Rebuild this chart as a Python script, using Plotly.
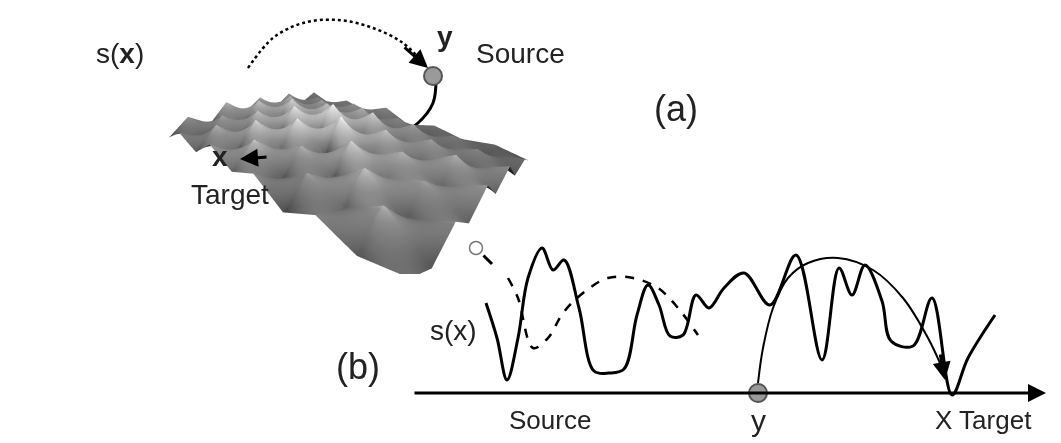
"""Sketch of a rugged landscape s(x): 3D view (a) and 1D cut (b)."""
import plotly.graph_objects as go

# (a) surface heights on a small grid (rough)
grid_x = [0, 1, 2, 3, 4, 5, 6, 7, 8, 9]
grid_y = [0, 1, 2, 3, 4, 5, 6, 7, 8, 9]
heights = [
    [0.2, 0.6, 0.3, 0.8, 0.4, 0.7, 0.2, 0.6, 0.3, 0.5],
    [0.7, 0.3, 0.9, 0.4, 1.0, 0.3, 0.8, 0.4, 0.9, 0.2],
    [0.3, 0.8, 0.4, 1.1, 0.5, 0.9, 0.4, 1.0, 0.3, 0.7],
    [0.9, 0.4, 1.0, 0.5, 1.2, 0.4, 1.1, 0.5, 0.8, 0.3],
    [0.4, 1.0, 0.5, 1.2, 0.6, 1.3, 0.5, 0.9, 0.4, 0.8],
    [0.8, 0.5, 1.1, 0.6, 1.3, 0.5, 1.0, 0.4, 0.9, 0.3],
    [0.3, 0.9, 0.4, 1.0, 0.5, 1.1, 0.4, 0.8, 0.3, 0.7],
    [0.7, 0.3, 0.8, 0.4, 0.9, 0.3, 0.8, 0.3, 0.6, 0.2],
    [0.2, 0.6, 0.3, 0.7, 0.3, 0.6, 0.2, 0.5, 0.2, 0.4],
    [0.5, 0.2, 0.5, 0.3, 0.6, 0.2, 0.4, 0.2, 0.3, 0.1],
]

# (b) landscape curve, in page units
curve_x = [478, 489, 499, 510, 520, 534, 545, 556, 571, 586, 601, 616, 629, 640,
           651, 662, 675, 688, 701, 716, 736, 762, 788, 814, 831, 844, 857, 874,
           883, 905, 924, 944, 960, 987]
curve_s = [295, 330, 372, 330, 270, 240, 262, 252, 300, 363, 365, 361, 307, 277,
           297, 328, 327, 287, 300, 280, 265, 297, 247, 352, 260, 287, 257, 293,
           333, 338, 290, 387, 350, 307]
dash_x = [500, 510, 525, 540, 555, 575, 600, 625, 650, 670, 690]
dash_s = [270, 290, 340, 330, 305, 285, 270, 270, 280, 300, 327]
jump_x = [750, 755, 765, 780, 800, 830, 865, 895, 920, 935]
jump_s = [375, 340, 300, 270, 255, 250, 262, 290, 330, 362]
ball_b = (750, 385)

# (a) arcs, in page units
dash_arc_x = [240, 265, 295, 330, 365, 395, 415]
dash_arc_y = [60, 30, 15, 12, 20, 35, 55]
solid_arc_x = [428, 425, 410, 385, 350, 310, 270, 238]
solid_arc_y = [72, 95, 115, 130, 140, 145, 148, 150]
ball_a = (425, 68)

FONT = "Liberation Sans"
fig = go.Figure()

fig.add_trace(go.Surface(
    x=grid_x, y=grid_y, z=heights, showscale=False,
    colorscale=[[0, "#2a2a2a"], [0.5, "#6e6e6e"], [1, "#d8d8d8"]],
    lighting=dict(ambient=0.45, diffuse=0.8, specular=0.2, roughness=0.7),
    lightposition=dict(x=-100, y=100, z=150), scene="scene",
))

line_black = dict(color="black", width=3)
fig.add_trace(go.Scatter(x=curve_x, y=curve_s, mode="lines", line=line_black, line_shape="spline"))
fig.add_trace(go.Scatter(x=dash_x, y=dash_s, mode="lines", line=dict(color="black", width=2.5, dash="dash"), line_shape="spline"))
fig.add_trace(go.Scatter(x=jump_x, y=jump_s, mode="lines", line=dict(color="black", width=2), line_shape="spline"))
fig.add_trace(go.Scatter(x=dash_arc_x, y=dash_arc_y, mode="lines", line=dict(color="black", width=2.5, dash="dot"), line_shape="spline"))
fig.add_trace(go.Scatter(x=solid_arc_x, y=solid_arc_y, mode="lines", line=line_black, line_shape="spline"))
fig.add_trace(go.Scatter(x=[ball_a[0], ball_b[0]], y=[ball_a[1], ball_b[1]], mode="markers",
                         marker=dict(size=18, color="#9a9a9a", line=dict(color="#555", width=2))))
fig.add_trace(go.Scatter(x=[468], y=[240], mode="markers",
                         marker=dict(size=13, color="white", line=dict(color="#777", width=1.5))))

arrows = [
    (405, 385, 1038, 385, 2),   # axis
    (395, 38, 420, 60, 2),      # dashed arc head
    (260, 149, 232, 151, 2),    # solid arc head
    (932, 345, 937, 372, 2),    # jump head
    (474, 246, 484, 256, 0),    # magnifier handle
]
for x0, y0, x1, y1, head in arrows:
    fig.add_annotation(x=x1, y=y1, ax=x0, ay=y0, xref="x", yref="y", axref="x", ayref="y",
                       showarrow=True, arrowhead=head, arrowsize=1.2, arrowwidth=3,
                       arrowcolor="black", text="")

labels = [
    (112, 45, "s(<b>x</b>)", 28), (437, 28, "<b>y</b>", 28), (512, 45, "Source", 28),
    (668, 100, "(a)", 36), (212, 148, "<b>x</b>", 28), (222, 186, "Target", 28),
    (445, 322, "s(x)", 28), (350, 358, "(b)", 36), (542, 412, "Source", 26),
    (750, 412, "y", 30), (975, 412, "X Target", 26),
]
for lx, ly, txt, sz in labels:
    fig.add_annotation(x=lx, y=ly, xref="x", yref="y", text=txt, showarrow=False,
                       font=dict(family=FONT, size=sz, color="#222"))

no_axis = dict(visible=False, showgrid=False, zeroline=False)
fig.update_layout(
    width=1061, height=443, margin=dict(l=0, r=0, t=0, b=0),
    paper_bgcolor="white", plot_bgcolor="rgba(0,0,0,0)", showlegend=False,
    xaxis=dict(range=[0, 1061], **no_axis),
    yaxis=dict(range=[443, 0], **no_axis),
    scene=dict(
        domain=dict(x=[0.0, 0.62], y=[0.4, 1.0]),
        xaxis=dict(visible=False), yaxis=dict(visible=False), zaxis=dict(visible=False),
        aspectratio=dict(x=1.4, y=1, z=0.2),
        camera=dict(eye=dict(x=0.9, y=-0.95, z=0.5), center=dict(x=0, y=0, z=-0.05)),
    ),
)

fig.write_html("out.html")
